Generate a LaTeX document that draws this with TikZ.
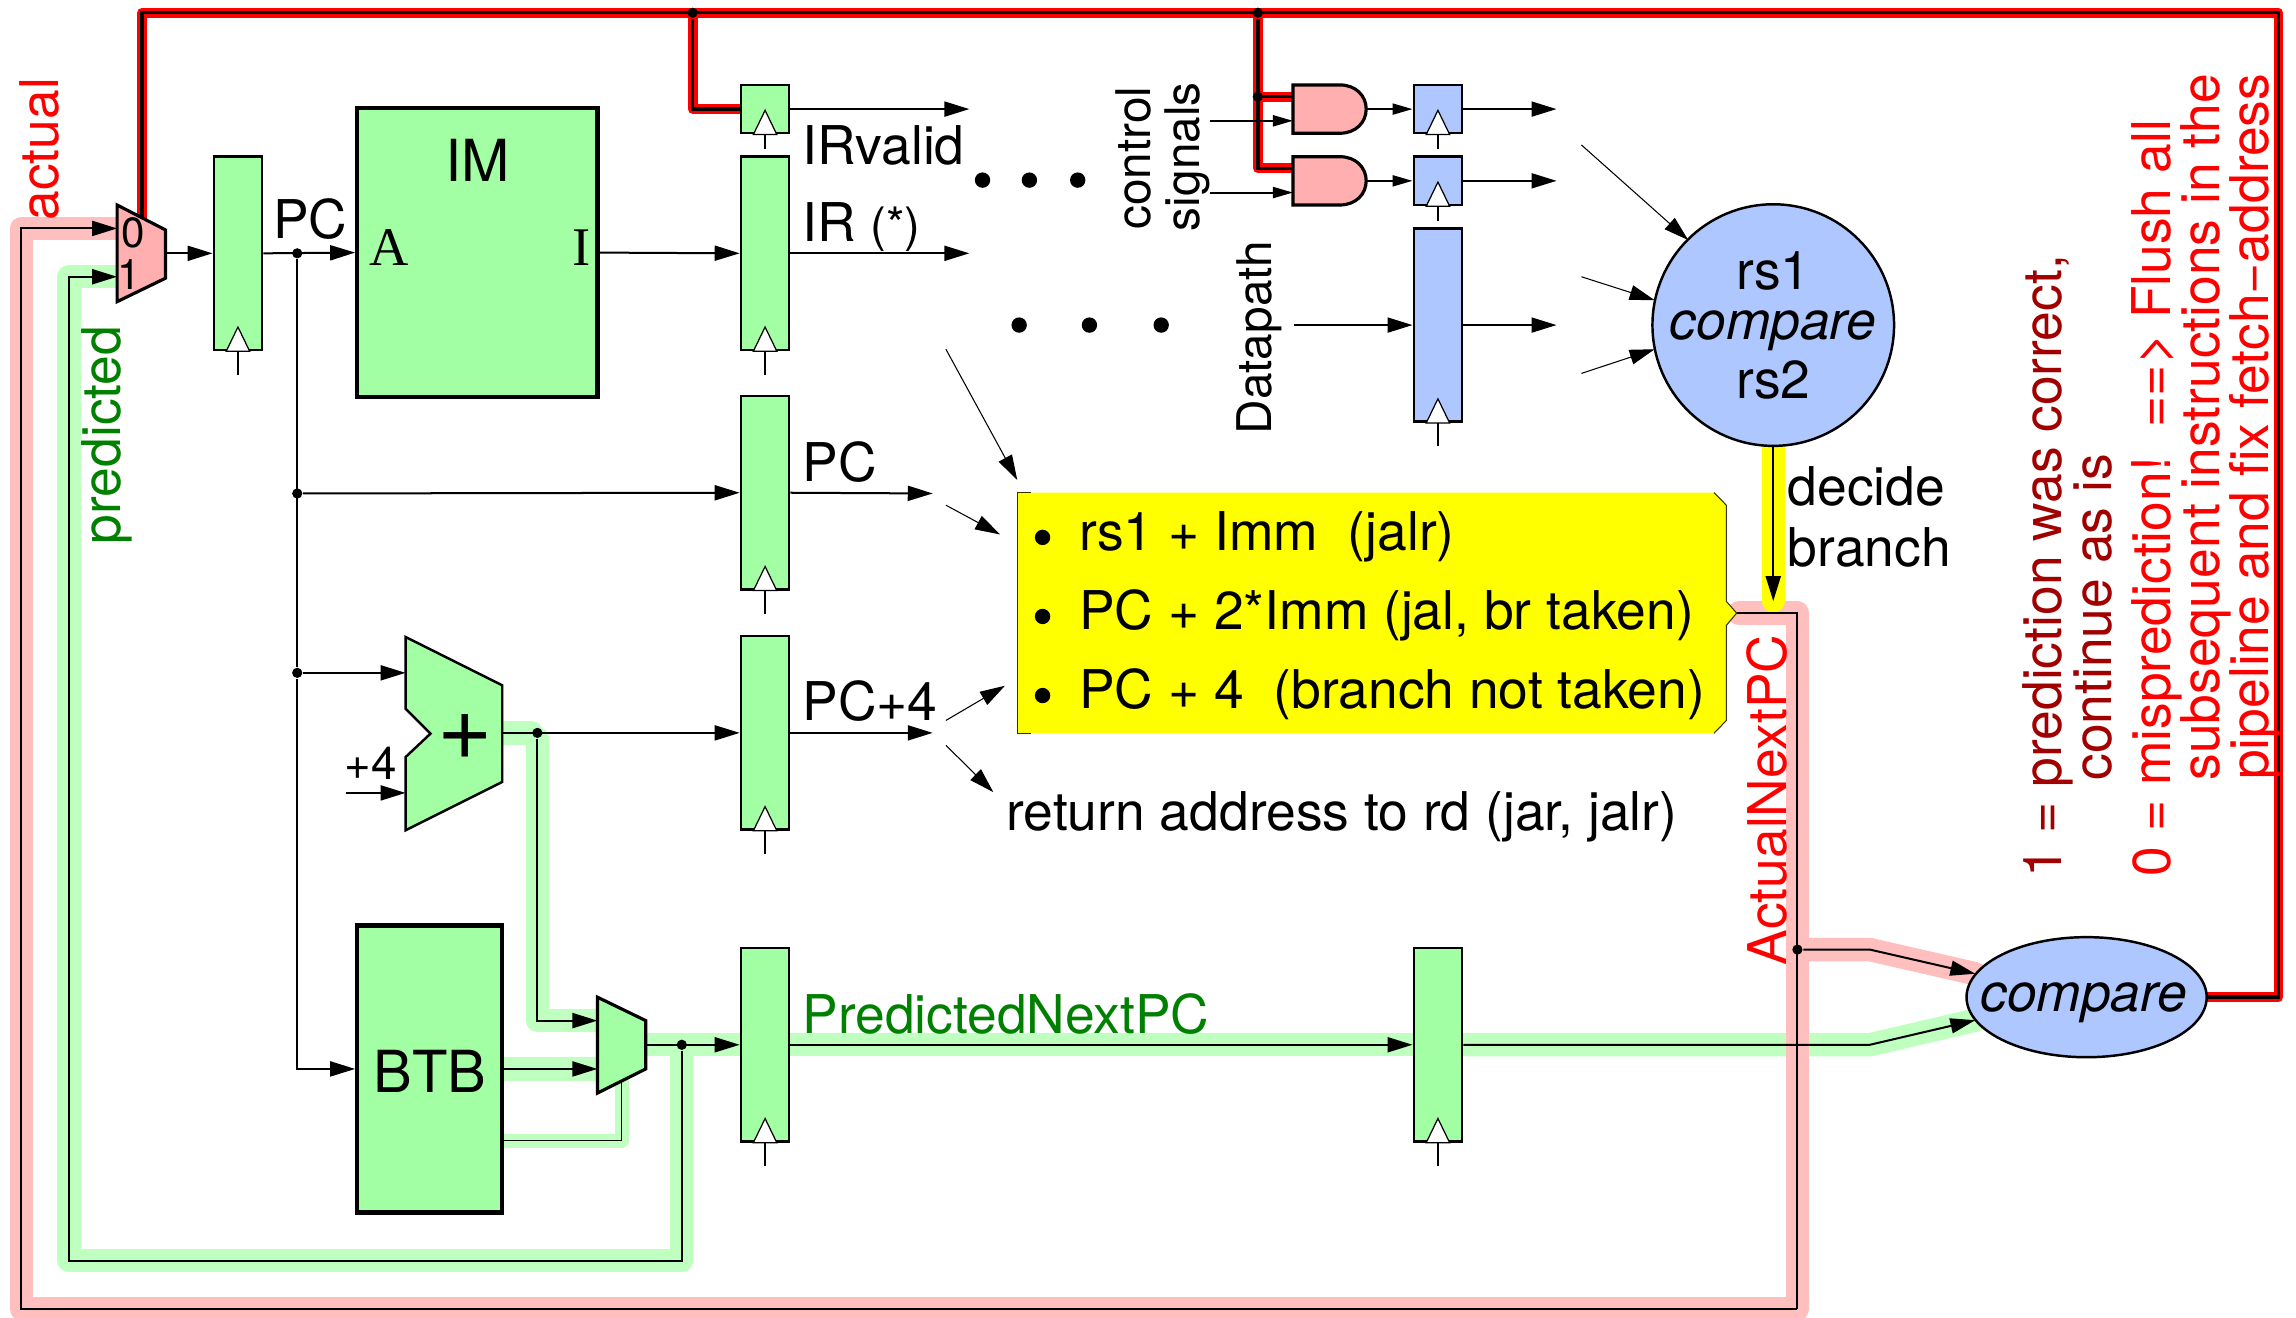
\documentclass[tikz,border=0pt]{standalone}
\usepackage{fontspec}
\setmainfont{TeX Gyre Heros}
\newfontfamily\romanpins{Liberation Serif}
\usetikzlibrary{arrows.meta,backgrounds,shapes.geometric}
\definecolor{stagegreen}{RGB}{163,255,163}
\definecolor{gatepink}{RGB}{255,175,175}
\definecolor{stageblue}{RGB}{175,199,255}
\definecolor{bandgreen}{RGB}{191,255,191}
\definecolor{bandpink}{RGB}{255,191,191}
\definecolor{labelgreen}{RGB}{0,128,0}
\definecolor{darkred}{RGB}{160,0,0}
\definecolor{boxyellow}{RGB}{255,255,0}
\def\px{0.014643cm}

\begin{document}
\begin{tikzpicture}[x=\px, y=-\px,
  lbl/.style={inner sep=0, font=\fontsize{15.2}{18}\selectfont},
  biglbl/.style={inner sep=0, font=\fontsize{16.5}{19}\selectfont},
  sidelbl/.style={inner sep=0, font=\fontsize{13.6}{16}\selectfont},
  reg/.style={draw, line width=0.7pt, minimum width=33*\px, inner sep=0},
  mem/.style={draw, line width=1.2pt, fill=stagegreen, inner sep=0},
  jct/.style={circle, fill=black, inner sep=0, minimum size=7*\px},
  bigdot/.style={circle, fill=black, inner sep=0, minimum size=10.5*\px},
  wire/.style={line width=0.57pt},
  arrow/.style={-{Triangle[length=2.5mm,width=1.5mm]}, line width=0.57pt},
  small arrow/.style={-{Triangle[length=2mm,width=1.1mm]}, line width=0.57pt},
  thin arrow/.style={-{Triangle[length=2.5mm,width=1.5mm]}, line width=0.3pt},
  gband/.style={draw=bandgreen, line width=16*\px, line join=round, line cap=round},
  pband/.style={draw=bandpink, line width=16*\px, line join=round, line cap=round},
  rband/.style={draw=red, line width=2.8pt, line join=round, line cap=round},
  flush/.style={line width=1pt}]
\useasboundingbox (0,0) rectangle (1568,900);
\def\preg#1#2#3#4#5{%
  \node[reg, fill=#2, minimum height=#5*\px] (#1) at (#3,#4) {};
  \draw[fill=white, line width=0.35pt] (#1.south) ++(-8,0) -- ++(8,-16.5) -- ++(8,16.5) -- cycle;
  \draw[line width=0.35pt] (#1.south) -- ++(0,#5/132*8+8);}
\def\andgate#1#2{%
  \draw[line width=0.9pt, fill=gatepink] (883,#2-16.5) -- (915,#2-16.5)
    .. controls (926,#2-16.5) and (933,#2-9) .. (933,#2)
    .. controls (933,#2+9) and (926,#2+16.5) .. (915,#2+16.5) -- (883,#2+16.5) -- cycle;
  \coordinate (#1out) at (933,#2);
  \coordinate (#1r) at (883,#2-8.5);
  \coordinate (#1c) at (883,#2+8);
  \coordinate (#1s) at (826,#2+8);}

\preg{regPC}{stagegreen}{162.5}{173}{132}
\preg{regValid}{stagegreen}{522.5}{74.5}{33}
\preg{regIR}{stagegreen}{522.5}{173}{132}
\preg{regPCb}{stagegreen}{522.5}{336.5}{132}
\preg{regPCc}{stagegreen}{522.5}{500.5}{132}
\preg{regPred}{stagegreen}{522.5}{713.5}{132}
\preg{regPredb}{stagegreen}{982}{713.5}{132}
\preg{regCa}{stageblue}{982}{74.5}{33}
\preg{regCb}{stageblue}{982}{123.5}{33}
\preg{regData}{stageblue}{982}{222}{132}

\node[mem, minimum width=164*\px, minimum height=197*\px] (IM) at (326,172.5) {};
\node[mem, minimum width=99*\px, minimum height=196*\px] (BTB) at (293.5,730) {};
\node[biglbl, anchor=base] (IMlabel) at (326,124) {IM};
\node[lbl, anchor=base, font=\romanpins\fontsize{15.5}{18}\selectfont] (IMa) at (266,181) {A};
\node[lbl, anchor=base, font=\romanpins\fontsize{15.5}{18}\selectfont] (IMi) at (397,181) {I};
\node[biglbl, anchor=base] (BTBlabel) at (293.7,746) {BTB};

\node[draw, circle, line width=0.7pt, fill=stageblue, minimum size=165*\px, inner sep=0] (rsCmp) at (1211,222) {};
\node[lbl, anchor=base] (rsA) at (1211,198) {rs1};
\node[lbl, anchor=base] (rsC) at (1211,232) {\itshape compare};
\node[lbl, anchor=base] (rsB) at (1211,272) {rs2};
\node[draw, ellipse, line width=0.7pt, fill=stageblue, minimum width=164*\px, minimum height=82*\px, inner sep=0] (cmp) at (1425,681) {};
\node[lbl, anchor=base] (cmpText) at (1423,690.5) {\itshape compare};

\draw[line width=0.9pt, fill=gatepink] (80,140) -- (113,157) -- (113,190) -- (80,206) -- cycle;
\coordinate (muxA) at (80,156); \coordinate (muxB) at (80,189);
\coordinate (muxOut) at (113,173); \coordinate (muxRed) at (97,148.5);
\node[lbl, anchor=base, font=\fontsize{12}{14}\selectfont] (muxZero) at (91,169) {0};
\node[lbl, anchor=base, font=\fontsize{12}{14}\selectfont] (muxOne) at (88,198) {1};

\draw[line width=0.9pt, fill=stagegreen] (408,681) -- (441,697) -- (441,730) -- (408,746.5) -- cycle;
\coordinate (nmuxA) at (408,697); \coordinate (nmuxB) at (408,730);
\coordinate (nmuxOut) at (441,713.5); \coordinate (nmuxS) at (424.5,738);

\draw[line width=0.7pt, fill=stagegreen] (277,435) -- (343,468) -- (343,534) -- (277,567) -- (277,517) -- (294,501) -- (277,484) -- cycle;
\coordinate (addA) at (277,459.5); \coordinate (addB) at (277,541.5);
\coordinate (addOut) at (343,500.5); \coordinate (addIn) at (236,541.5);
\node[lbl, anchor=center, font=\fontsize{27}{30}\selectfont] (addPlus) at (317.5,503) {+};
\node[lbl, anchor=base, font=\fontsize{13}{15}\selectfont] (addFour) at (253,532) {+4};

\andgate{gA}{74.5}
\andgate{gB}{123.5}

\node[jct] (jPC) at (203,173) {};
\node[jct] (jPCb) at (203,337) {};
\node[jct] (jPCc) at (203,459.5) {};
\node[jct] (jAdd) at (367,500.5) {};
\node[jct] (jPred) at (465.6,713.5) {};
\node[jct] (jFlushA) at (473,8.7) {};
\node[jct] (jFlushB) at (859,8.7) {};
\node[jct] (jFlushC) at (859,66) {};
\node[jct] (jActual) at (1227.5,648.5) {};

\coordinate (topL) at (97,8.7); \coordinate (topR) at (1556,8.7);
\coordinate (retL) at (14.6,894); \coordinate (retR) at (1227.5,894);
\coordinate (predL) at (47,861);
\coordinate (tipTop) at (1227.5,418.7);
\coordinate (bendA) at (1277,648.5); \coordinate (bendB) at (1277,713.5);
\coordinate (cmpA) at (1349,665); \coordinate (cmpB) at (1349,696.7);
\coordinate (btbLow) at (343,779); \coordinate (btbMid) at (343,730);

\begin{scope}[on background layer]
  \draw[gband] (addOut) -- (jAdd) |- (nmuxA);
  \draw[gband] (btbMid) -- (nmuxB);
  \draw[gband, line width=9.5*\px] (btbLow) -| (nmuxS);
  \draw[gband] (nmuxOut) -- (regPred.west);
  \draw[gband] (jPred) |- (predL) |- (muxB);
  \draw[gband] (regPred.east) -- (regPredb.west);
  \draw[gband] (regPredb.east) -- (bendB) -- (cmpB);
  \draw[pband] (tipTop) ++(-40,0) -- (tipTop) -- (retR) -- (retL) |- (muxA);
  \draw[pband] (jActual) -- (bendA) -- (cmpA);
  \draw[draw=boxyellow, line width=16*\px, line cap=round] (rsCmp.south) -- (1211,410.5);
  \node[inner sep=0] (yTip) at (1186,418.7) {};
  \fill[boxyellow] (694.6,336.4) -- (1170.5,336.4) -- (1179,345) -- (1179,410.7) -- (yTip.center)
    -- (1179,427) -- (1179,492) -- (1170.5,500.8) -- (694.6,500.8) -- cycle;
  \draw[line width=0.3pt, draw=black!80!boxyellow] (704,336.4) -- (694.6,336.4) -- (694.6,500.8) -- (704,500.8);
  \draw[line width=0.3pt, draw=black!80!boxyellow] (1170.5,336.4) -- (1179,345) -- (1179,410.7) -- (yTip.center)
    -- (1179,427) -- (1179,492) -- (1170.5,500.8);
  \draw[rband] (cmp.east) -| (topR) -| (muxRed);
  \draw[rband] (jFlushA) |- (regValid.west);
  \draw[rband] (jFlushB) |- (gAr);
  \draw[rband] (jFlushB) |- (gBr);
  \draw[flush] (cmp.east) -| (topR) -| (muxRed);
  \draw[flush] (jFlushA) |- (regValid.west);
  \draw[flush] (jFlushB) |- (gAr);
  \draw[flush] (jFlushB) |- (gBr);
\end{scope}

\draw[arrow] (retR) -- (retL) |- (muxA);
\draw[wire] (yTip.center) -- (tipTop) -- (retR);
\draw[arrow] (jPred) |- (predL) |- (muxB);
\draw[arrow] (muxOut) -- (regPC.west);
\draw[arrow] (regPC.east) -- (IM.west);
\draw[wire] (jPC) -- (jPCc);
\draw[arrow] (jPCc) |- (BTB.west);
\draw[arrow] (jPCb) -- (regPCb.west);
\draw[arrow] (jPCc) -- (addA);
\draw[arrow] (addIn) -- (addB);
\draw[arrow] (addOut) -- (regPCc.west);
\draw[arrow] (IM.east) -- (regIR.west);
\draw[arrow] (jAdd) |- (nmuxA);
\draw[arrow] (btbMid) -- (nmuxB);
\draw[line width=0.4pt] (btbLow) -| (nmuxS);
\draw[arrow] (nmuxOut) -- (regPred.west);
\draw[arrow] (regPred.east) -- (regPredb.west);
\draw[arrow] (regPredb.east) -- (bendB) -- (cmpB);
\draw[arrow] (jActual) -- (bendA) -- (cmpA);
\draw[arrow] (rsCmp.south) -- (1211,410.5);

\coordinate (endValid) at (662,74.5); \coordinate (endIR) at (662,173);
\coordinate (endPC) at (637,337); \coordinate (endPCc) at (637,500.5);
\draw[arrow] (regValid.east) -- (endValid);
\draw[arrow] (regIR.east) -- (endIR);
\draw[arrow] (regPCb.east) -- (endPC);
\draw[arrow] (regPCc.east) -- (endPCc);

\draw[small arrow] (gAout) -- (regCa.west);
\draw[small arrow] (gBout) -- (regCb.west);
\draw[small arrow] (gAs) -- (gAc);
\draw[small arrow] (gBs) -- (gBc);
\coordinate (endCa) at (1063,74.5); \coordinate (endCb) at (1063,123.5);
\coordinate (endData) at (1063,222); \coordinate (startData) at (884,222);
\draw[arrow] (regCa.east) -- (endCa);
\draw[arrow] (regCb.east) -- (endCb);
\draw[arrow] (regData.east) -- (endData);
\draw[arrow] (startData) -- (regData.west);

\coordinate (inA) at (1080,99); \coordinate (inB) at (1080,189); \coordinate (inC) at (1080,255);
\coordinate (hitA) at (1153,164); \coordinate (hitB) at (1130,205); \coordinate (hitC) at (1130,238.5);
\draw[thin arrow] (inA) -- (hitA);
\draw[thin arrow] (inB) -- (hitB);
\draw[thin arrow] (inC) -- (hitC);
\coordinate (fromA) at (646,238.5); \coordinate (toA) at (694.7,327.8);
\coordinate (fromB) at (646,345); \coordinate (toB) at (683,365);
\coordinate (fromC) at (646,492); \coordinate (toC) at (686.3,468.3);
\coordinate (fromD) at (646,509); \coordinate (toD) at (678.4,541);
\draw[thin arrow] (fromA) -- (toA);
\draw[thin arrow] (fromB) -- (toB);
\draw[thin arrow] (fromC) -- (toC);
\draw[thin arrow] (fromD) -- (toD);

\foreach \i/\xpos/\ypos in {a/671/123,b/703/123,c/736/123,d/696/222,e/744/222,f/793/222}
  \node[bigdot] (dots\i) at (\xpos,\ypos) {};

\def\yitem#1#2#3{%
  \node[bigdot] (bul#1) at (712,#2-9) {};
  \node[lbl, anchor=base west] (item#1) at (736.5,#2) {#3};}
\yitem{a}{376}{rs1 + Imm\ \ (jalr)}
\yitem{b}{430}{PC + 2*Imm (jal, br taken)}
\yitem{c}{484}{PC + 4\ \ (branch not taken)}

\node[lbl, anchor=base] (pcLbl) at (212,163) {PC};
\node[lbl, anchor=base west] (validLbl) at (547.5,112) {IRvalid};
\node[lbl, anchor=base west] (irLbl) at (547.5,165) {IR {\fontsize{13.5}{16}\selectfont (*)}};
\node[lbl, anchor=base west] (pcbLbl) at (547.5,329) {PC};
\node[lbl, anchor=base west] (pccLbl) at (547.5,492) {PC+4};
\node[lbl, anchor=base west, text=labelgreen] (predLbl) at (547.5,706) {PredictedNextPC};
\node[lbl, anchor=base west] (retLbl) at (687,567) {return address to rd (jar, jalr)};
\node[lbl, anchor=base west] (decideLbl) at (1220.5,345.5) {decide};
\node[lbl, anchor=base west] (branchLbl) at (1220.5,387) {branch};

\node[sidelbl, anchor=base, rotate=90] (ctlA) at (785.6,108) {control};
\node[sidelbl, anchor=base, rotate=90] (ctlB) at (819,107) {signals};
\node[sidelbl, anchor=base, rotate=90] (dataLbl) at (868,230.5) {Datapath};
\node[lbl, anchor=base west, rotate=90, text=red] (actualLbl) at (40,151) {actual};
\node[lbl, anchor=base west, rotate=90, text=labelgreen] (predictedLbl) at (82,372) {predicted};
\node[lbl, anchor=base west, rotate=90, text=red] (actualNext) at (1219.7,659.5) {ActualNextPC};
\node[lbl, anchor=base west, rotate=90, text=darkred] (noteA) at (1408,600) {1 = prediction was correct,};
\node[lbl, anchor=base west, rotate=90, text=darkred] (noteB) at (1442,533.5) {continue as is};
\node[lbl, anchor=base west, rotate=90, text=red] (noteC) at (1482.6,599) {0 = misprediction!\ \ ==> Flush all};
\node[lbl, anchor=base west, rotate=90, text=red] (noteD) at (1516,533.5) {subsequent instructions in the};
\node[lbl, anchor=base west, rotate=90, text=red] (noteE) at (1549,533) {pipeline and fix fetch−address};
\end{tikzpicture}
\end{document}
